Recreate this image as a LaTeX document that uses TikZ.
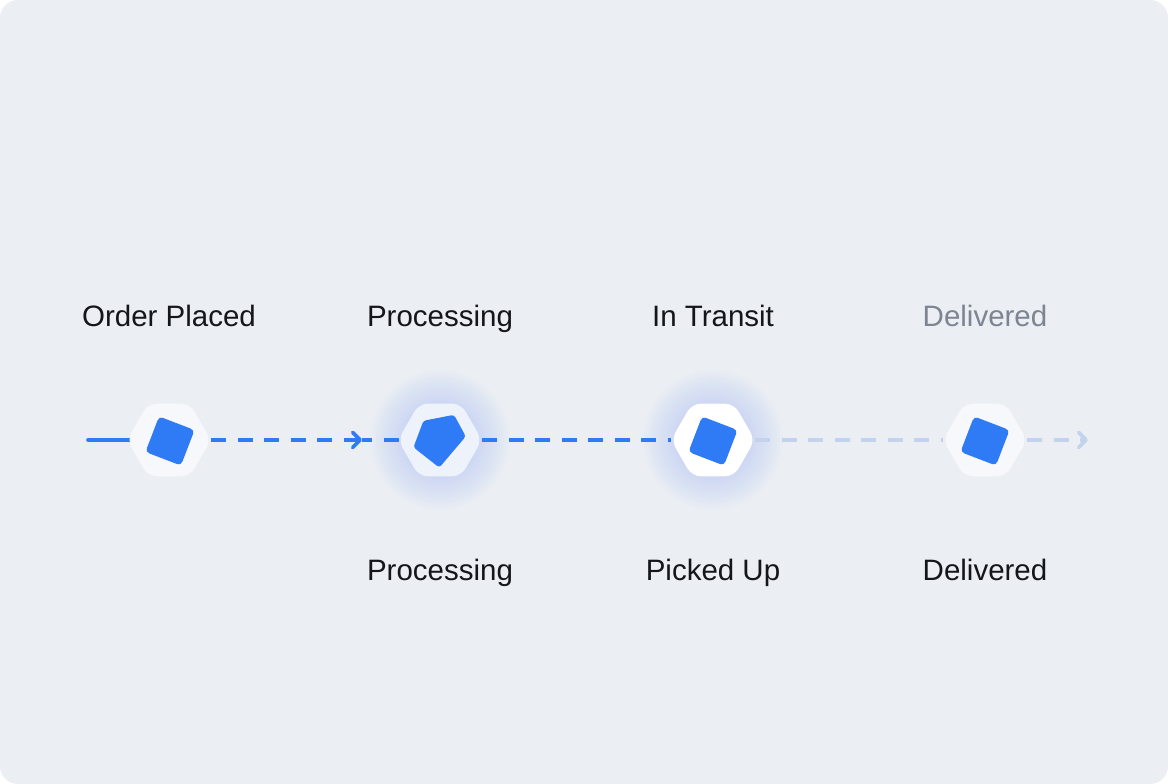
\documentclass[tikz,border=0pt]{standalone}
\usepackage{fontspec}
\setmainfont{Liberation Sans}
\usetikzlibrary{shapes.geometric,arrows.meta}
\definecolor{bgc}{HTML}{EBEEF3}
\definecolor{blu}{HTML}{2F7BF5}
\definecolor{lblu}{HTML}{C3D3EE}
\definecolor{txt}{HTML}{14161C}
\definecolor{gtxt}{HTML}{7D8492}
\definecolor{hexa}{HTML}{F7F8FB}
\definecolor{hexb}{HTML}{EEF2FB}
\pgfdeclarelayer{back}
\pgfdeclarelayer{bg}
\pgfdeclarelayer{glow}
\pgfsetlayers{back,glow,bg,main}
\tikzset{
  hexnode/.style={regular polygon, regular polygon sides=6, minimum size=84pt, inner sep=0pt, rounded corners=9pt, fill=#1},
  sq/.style={rectangle, minimum size=38pt, inner sep=0pt, rounded corners=4pt, fill=blu, rotate=-21},
  lbl/.style={font=\fontsize{29.5}{32}\selectfont, text=txt, anchor=base},
  solidline/.style={line width=3.6pt, draw=blu, line cap=round},
  dashline/.style={line width=3.6pt, draw=blu, dash pattern=on 15pt off 11.5pt},
  lightline/.style={line width=3.6pt, draw=lblu, dash pattern=on 15pt off 11.5pt},
  tip/.style={-{Straight Barb[round,length=7.5pt,width=15pt]}}
}
\begin{document}
\begin{tikzpicture}[x=1pt,y=1pt]
\useasboundingbox (0,0) rectangle (1168,784);
\begin{pgfonlayer}{back}
\fill[white] (0,0) rectangle (1168,784);
\fill[bgc, rounded corners=18pt] (0,0) rectangle (1168,784);
\end{pgfonlayer}
% glow
\begin{pgfonlayer}{glow}
\foreach \cx in {440,713}{
  \foreach \r in {70,67,...,40}{
    \fill[blu, opacity=0.012] (\cx,344) circle (\r);
  }
}
\end{pgfonlayer}
% hexagons
\node[hexnode=hexa] (h1) at (169,344) {};
\node[hexnode=hexb] (h2) at (440,344) {};
\node[hexnode=white] (h3) at (713,344) {};
\node[hexnode=hexa] (h4) at (985,344) {};
% icons
\node[sq] (s1) at (170,343) {};
\begin{scope}[shift={(440,343)}, scale=1.08]
\draw[fill=blu, draw=blu, line width=1pt, line join=round, rounded corners=2.5pt]
  (-15,18.3) -- (12.7,23.7) -- (23.3,4.3) -- (-0.7,-24) -- (-24,-5.7) -- cycle;
\end{scope}
\node[sq] (s3) at (713,343) {};
\node[sq] (s4) at (985,343) {};
% connectors
\coordinate (st) at (88,344);
\coordinate (m1) at (362,344);
\coordinate (en) at (1088,344);
\begin{pgfonlayer}{bg}
\draw[solidline] (st) -- (h1.center);
\draw[dashline, tip] (h1.east) -- (m1);
\draw[dashline, dash phase=5pt] (m1) -- ([xshift=4pt]h2.west);
\draw[dashline] (h2.east) -- (h3.west);
\draw[lightline] (h3.east) -- (h4.west);
\draw[lightline, tip] (h4.east) -- (en);
\end{pgfonlayer}
% labels
\node[lbl] (t1) at (169,457) {Order Placed};
\node[lbl] (t2) at (440,457) {Processing};
\node[lbl] (t3) at (713,457) {In Transit};
\node[lbl, text=gtxt] (t4) at (985,457) {Delivered};
\node[lbl] (b2) at (440,203) {Processing};
\node[lbl] (b3) at (713,203) {Picked Up};
\node[lbl] (b4) at (985,203) {Delivered};
\end{tikzpicture}
\end{document}
